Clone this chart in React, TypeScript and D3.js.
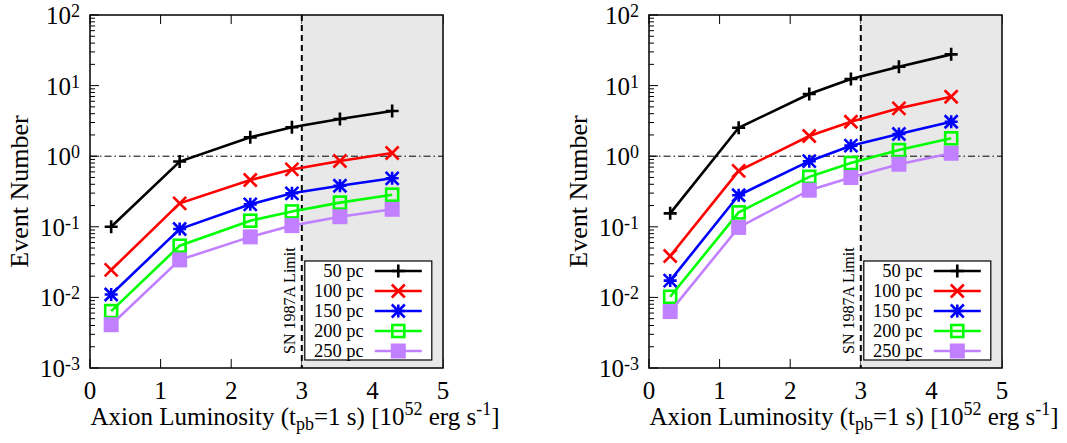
import React from "react";
import * as d3 from "d3";

const xValues = [0.3, 1.27, 2.27, 2.86, 3.54, 4.28];
const seriesNames = ["50 pc", "100 pc", "150 pc", "200 pc", "250 pc"];
const seriesColors = ["#000000", "#ff0000", "#0000ff", "#00ff00", "#c080ff"];
const seriesMarkers = ["plus", "cross", "star", "openSquare", "filledSquare"];

const leftValues = [
  [0.1, 0.84, 1.85, 2.57, 3.36, 4.37],
  [0.0245, 0.215, 0.46, 0.65, 0.855, 1.11],
  [0.011, 0.093, 0.208, 0.298, 0.382, 0.486],
  [0.0064, 0.054, 0.122, 0.165, 0.22, 0.285],
  [0.0041, 0.034, 0.072, 0.104, 0.139, 0.177],
];
const rightValues = [
  [0.155, 2.53, 7.6, 12.4, 18.5, 27.7],
  [0.0386, 0.62, 1.93, 3.08, 4.77, 6.96],
  [0.0173, 0.28, 0.85, 1.41, 2.06, 3.08],
  [0.0102, 0.16, 0.51, 0.8, 1.22, 1.79],
  [0.0063, 0.098, 0.33, 0.5, 0.77, 1.1],
];
const xTicks = [0, 1, 2, 3, 4, 5];
const yExponents = [-3, -2, -1, 0, 1, 2];
const limitX = 3;
const FONT = "Liberation Serif";

function Marker({ type, x, y, color }: { type: string; x: number; y: number; color: string }) {
  const s = 6.5;
  const sw = 2.6;
  if (type === "plus")
    return <path d={`M${x - s},${y}H${x + s}M${x},${y - s}V${y + s}`} stroke={color} strokeWidth={sw} />;
  if (type === "cross")
    return <path d={`M${x - s},${y - s}L${x + s},${y + s}M${x - s},${y + s}L${x + s},${y - s}`} stroke={color} strokeWidth={sw} />;
  if (type === "star")
    return (
      <path
        d={`M${x - s},${y - s}L${x + s},${y + s}M${x - s},${y + s}L${x + s},${y - s}M${x - s},${y}H${x + s}M${x},${y - s}V${y + s}`}
        stroke={color}
        strokeWidth={sw}
      />
    );
  if (type === "openSquare")
    return <rect x={x - 6} y={y - 6} width={12} height={12} fill="none" stroke={color} strokeWidth={sw} />;
  return <rect x={x - 7.5} y={y - 7.5} width={15} height={15} fill={color} />;
}

function Panel({ left, data }: { left: number; data: number[][] }) {
  const top = 15;
  const size = 353;
  const x = d3.scaleLinear().domain([0, 5]).range([left, left + size]);
  const y = d3.scaleLog().domain([1e-3, 1e2]).range([top + size, top]);
  const line = d3
    .line<number>()
    .x((_, i) => x(xValues[i]))
    .y((v) => y(v));
  const minor: number[] = [];
  for (let e = -3; e < 2; e++) for (let m = 2; m <= 9; m++) minor.push(m * Math.pow(10, e));
  const legX = x(limitX) + 3;
  const legY = 261;
  const bottom = top + size;
  const right = left + size;
  return (
    <g>
      {minor.map((v, i) => (
        <line key={"mn" + i} x1={left} x2={left + 5} y1={y(v)} y2={y(v)} stroke="#000" strokeWidth={1} />
      ))}
      {yExponents.map((e) => (
        <line key={"mj" + e} x1={left} x2={left + 9} y1={y(Math.pow(10, e))} y2={y(Math.pow(10, e))} stroke="#000" strokeWidth={1} />
      ))}
      {xTicks.map((t) => (
        <g key={"xt" + t}>
          <line x1={x(t)} x2={x(t)} y1={bottom} y2={bottom - 9} stroke="#000" strokeWidth={1} />
          <line x1={x(t)} x2={x(t)} y1={top} y2={top + 9} stroke="#000" strokeWidth={1} />
        </g>
      ))}
      <rect x={x(limitX)} y={top} width={x(5) - x(limitX)} height={size} fill="#e8e8e8" />
      <line x1={left} x2={right} y1={y(1)} y2={y(1)} stroke="#000" strokeWidth={1} strokeDasharray="7,3,1.5,3" />
      <line x1={x(limitX)} x2={x(limitX)} y1={top} y2={bottom} stroke="#000" strokeWidth={2} strokeDasharray="6,4" />
      <text transform={`translate(${x(limitX) - 7},${bottom - 14}) rotate(-90)`} fontSize={16} fill="#000">
        SN 1987A Limit
      </text>
      {data.map((vals, si) => (
        <g key={"s" + si}>
          <path d={line(vals) || ""} fill="none" stroke={seriesColors[si]} strokeWidth={2.6} />
          {vals.map((v, i) => (
            <Marker key={i} type={seriesMarkers[si]} x={x(xValues[i])} y={y(v)} color={seriesColors[si]} />
          ))}
        </g>
      ))}
      <rect x={legX} y={legY} width={127} height={99} fill="#fff" stroke="#000" strokeWidth={1.2} />
      {seriesNames.map((n, i) => {
        const cy = legY + 10 + i * 20;
        return (
          <g key={"l" + i}>
            <text x={legX + 59} y={cy + 6} textAnchor="end" fontSize={18.5} fill="#000">
              {n}
            </text>
            <line x1={legX + 70} x2={legX + 117} y1={cy} y2={cy} stroke={seriesColors[i]} strokeWidth={2.6} />
            <Marker type={seriesMarkers[i]} x={legX + 93.5} y={cy} color={seriesColors[i]} />
          </g>
        );
      })}
      <rect x={left} y={top} width={size} height={size} fill="none" stroke="#000" strokeWidth={1.5} />
      {xTicks.map((t) => (
        <text key={"xl" + t} x={x(t)} y={399} textAnchor="middle" fontSize={25} fill="#000">
          {t}
        </text>
      ))}
      {yExponents.map((e) => (
        <text key={"yl" + e} x={left - 10} y={y(Math.pow(10, e)) + 9} textAnchor="end" fontSize={25} fill="#000">
          10
          <tspan fontSize={18} dy={-7}>
            {e}
          </tspan>
        </text>
      ))}
      <text
        transform={`translate(${left - 62},${top + size / 2}) rotate(-90)`}
        textAnchor="middle"
        fontSize={26}
        fill="#000"
      >
        Event Number
      </text>
      <text x={left + 205} y={425} textAnchor="middle" fontSize={25} fill="#000">
        Axion Luminosity (t
        <tspan fontSize={18} dy={5}>
          pb
        </tspan>
        <tspan dy={-5}>=1 s) [10</tspan>
        <tspan fontSize={18} dy={-10}>
          52
        </tspan>
        <tspan dy={10}> erg s</tspan>
        <tspan fontSize={18} dy={-10}>
          -1
        </tspan>
        <tspan dy={10}>]</tspan>
      </text>
    </g>
  );
}

export default function App() {
  return (
    <svg
      width={1067}
      height={443}
      style={{ position: "absolute", left: 0, top: 0, background: "#fff", fontFamily: FONT }}
    >
      <rect width={1067} height={443} fill="#fff" />
      <Panel left={90} data={leftValues} />
      <Panel left={649} data={rightValues} />
    </svg>
  );
}
